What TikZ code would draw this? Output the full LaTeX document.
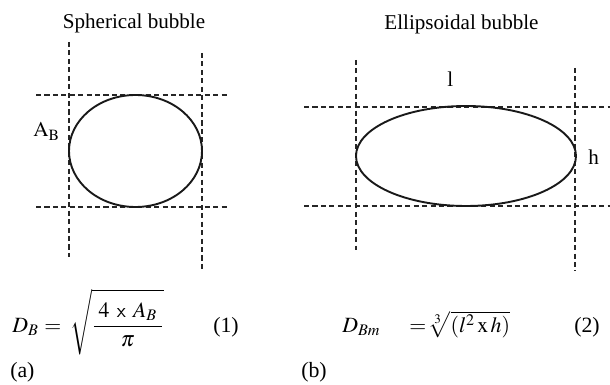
\documentclass[tikz,border=0pt]{standalone}
\usepackage{mathptmx}
\usepackage{fontspec}
\setmainfont{Liberation Serif}
\usepackage{tikz}
\usetikzlibrary{calc}

\begin{document}
\begin{tikzpicture}[x=0.025cm, y=-0.025cm]
                        \tikzset{
                            guide line/.style={
                                    dash pattern=on 3.6pt off 2.4pt, line width=1.1pt, color=black!85
                                },
                            bubble outline/.style={
                                    line width=1.35pt, color=black!90
                                },
                            panel title/.style={
                                    font=\fontsize{15}{18}\selectfont, anchor=base, inner sep=0pt
                                },
                            size label/.style={
                                    font=\fontsize{15}{18}\selectfont, anchor=base west, inner sep=0pt
                                },
                            formula/.style={
                                    font=\fontsize{15.5}{18}\selectfont, anchor=base west, inner sep=0pt
                                }
                        }
                        \useasboundingbox (0,0) rectangle (610,385);

                        % Spherical bubble
                        \draw[guide line] (69, 42) -- (69, 257);
                        \draw[guide line] (202, 53) -- (202, 269);
                        \draw[guide line] (36, 95) -- (230, 95);
                        \draw[guide line] (36, 207) -- (230, 207);
                        \draw[bubble outline] (135.5, 151) ellipse [x radius=66.5, y radius=56];
                        \node[panel title] (sphTitle) at (134, 29) {Spherical bubble};
                        \node[size label] (sphArea) at (33, 137) {$\mathrm{A}_{\mathrm{B}}$};

                        % Ellipsoidal bubble
                        \draw[guide line] (356, 60) -- (356, 250);
                        \draw[guide line] (575, 68) -- (575, 271);
                        \draw[guide line] (304, 107) -- (610, 107);
                        \draw[guide line] (304, 206) -- (610, 206);
                        \draw[bubble outline] (466, 156) ellipse [x radius=110, y radius=50];
                        \node[panel title] (ellTitle) at (461.5, 30) {Ellipsoidal bubble};
                        \node[size label] (ellLength) at (447, 87) {l};
                        \node[size label] (ellHeight) at (588, 165) {h};

                        % Equations
                        \node[formula] (eqOneLhs) at (12, 332) {$D_B$};
                        \node[formula] (eqOneEq) at (44, 332) {$=$};
                        \node[formula] (eqOneRhs) at (70, 332) {$\displaystyle\sqrt{\rule[-12pt]{0pt}{35pt}\frac{\;4\;\,\mathsf{x}\;\,A_B\;}{\pi}}$};
                        \node[formula] (eqOneTag) at (213, 332) {(1)};
                        \node[formula] (panelA) at (10, 377) {(a)};
                        \node[formula] (eqTwoLhs) at (342, 332) {$D_{Bm}$};
                        \node[formula] (eqTwoEq) at (409, 332) {$=$};
                        \node[formula] (eqTwoRhs) at (428, 332) {$\sqrt[3]{(l^2\,\mathrm{x}\,h)}$};
                        \node[formula] (eqTwoTag) at (574, 332) {(2)};
                        \node[formula] (panelB) at (301, 377) {(b)};
                    \end{tikzpicture}
\end{document}
